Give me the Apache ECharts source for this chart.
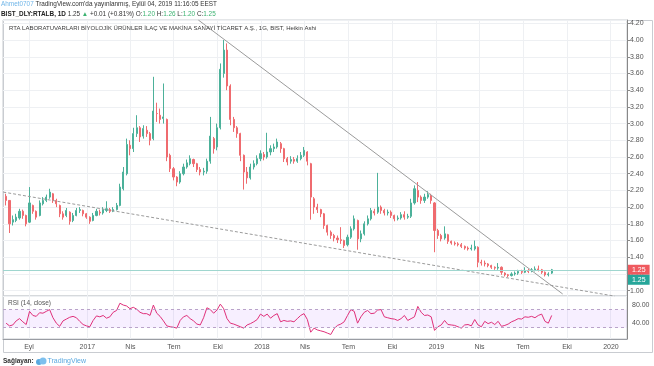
<!DOCTYPE html>
<html><head><meta charset="utf-8">
<script src="https://cdn.jsdelivr.net/npm/echarts@6/dist/echarts.min.js"></script>
<style>html,body{margin:0;padding:0;background:#fff}#c{width:654px;height:366px}</style>
</head><body><div id="c"></div>
<script>
// ---- data (weekly samples) ----
const axisStart = '2016-07-09';
const axisDays = 1305;
const firstWeek = '2016-07-15';
const opens = [2.13,2.08,1.82,1.84,1.87,1.95,1.90,1.82,2.02,1.95,
1.90,2.04,2.08,2.12,2.16,2.08,2.02,1.92,1.90,1.94,
1.84,1.90,1.96,1.96,1.92,1.88,1.84,1.90,1.94,1.93,
1.96,1.97,1.95,1.97,2.02,2.22,2.40,2.74,2.70,2.88,
2.95,2.85,2.92,2.88,2.82,3.12,3.10,3.06,3.05,2.62,
2.46,2.36,2.30,2.40,2.48,2.52,2.57,2.52,2.45,2.42,
2.43,2.55,2.82,2.72,2.95,3.60,3.88,3.45,3.05,2.95,
2.88,2.62,2.42,2.35,2.48,2.52,2.58,2.63,2.60,2.66,
2.70,2.72,2.76,2.70,2.58,2.55,2.57,2.55,2.58,2.62,
2.66,2.52,2.10,2.00,1.97,1.92,1.78,1.70,1.66,1.63,
1.61,1.60,1.55,1.64,1.74,1.84,1.62,1.68,1.80,1.86,
1.95,1.94,2.00,1.96,1.93,1.94,1.90,1.86,1.87,1.91,
1.88,1.89,2.05,2.20,2.12,2.08,2.12,2.14,2.05,1.72,
1.66,1.63,1.67,1.59,1.57,1.56,1.55,1.53,1.51,1.50,
1.50,1.52,1.34,1.33,1.32,1.30,1.28,1.27,1.28,1.21,
1.19,1.18,1.20,1.21,1.23,1.22,1.24,1.23,1.25,1.26,
1.25,1.22,1.19,1.21];
const closes = [2.08,1.80,1.85,1.88,1.95,1.90,1.80,2.05,1.95,1.88,
2.05,2.08,2.12,2.18,2.08,2.04,1.92,1.88,1.96,1.83,
1.90,1.96,1.97,1.92,1.88,1.83,1.90,1.95,1.93,1.97,
1.98,1.95,1.97,2.02,2.24,2.42,2.75,2.70,2.88,2.95,
2.84,2.94,2.88,2.80,3.15,3.12,3.05,3.08,2.60,2.46,
2.36,2.30,2.40,2.48,2.53,2.58,2.52,2.45,2.42,2.43,
2.55,2.85,2.70,2.95,3.65,3.88,3.45,3.05,2.95,2.88,
2.62,2.42,2.35,2.48,2.52,2.58,2.64,2.60,2.66,2.70,
2.72,2.78,2.70,2.58,2.54,2.57,2.55,2.58,2.62,2.68,
2.55,2.12,2.00,1.97,1.92,1.78,1.70,1.66,1.63,1.61,
1.60,1.54,1.64,1.74,1.86,1.62,1.68,1.80,1.86,1.96,
1.93,2.00,1.96,1.93,1.94,1.90,1.86,1.87,1.91,1.88,
1.89,2.05,2.22,2.12,2.08,2.12,2.15,2.08,1.72,1.66,
1.62,1.68,1.59,1.57,1.56,1.55,1.53,1.51,1.50,1.51,
1.53,1.34,1.33,1.32,1.30,1.28,1.27,1.28,1.22,1.19,
1.18,1.20,1.21,1.23,1.22,1.24,1.23,1.25,1.26,1.25,
1.22,1.19,1.20,1.25];
const lows = [2.02,1.69,1.78,1.82,1.85,1.86,1.77,1.81,1.92,1.85,
1.89,2.02,2.06,2.10,2.05,2.00,1.88,1.85,1.88,1.79,
1.82,1.89,1.93,1.89,1.86,1.80,1.83,1.89,1.90,1.91,
1.94,1.93,1.94,1.96,2.01,2.20,2.38,2.62,2.66,2.84,
2.78,2.82,2.84,2.74,2.80,3.02,3.00,3.00,2.55,2.42,
2.32,2.25,2.28,2.38,2.46,2.50,2.48,2.42,2.38,2.38,
2.40,2.52,2.64,2.68,2.93,3.55,3.40,2.98,2.90,2.83,
2.55,2.21,2.28,2.33,2.45,2.50,2.55,2.56,2.58,2.62,
2.66,2.70,2.65,2.54,2.50,2.52,2.52,2.53,2.56,2.60,
2.50,1.85,1.92,1.93,1.88,1.74,1.66,1.62,1.59,1.57,
1.56,1.51,1.53,1.62,1.72,1.49,1.58,1.66,1.78,1.84,
1.90,1.92,1.92,1.90,1.90,1.87,1.83,1.84,1.85,1.85,
1.86,1.87,2.03,2.06,2.04,2.05,2.10,2.04,1.46,1.62,
1.59,1.61,1.56,1.55,1.54,1.53,1.51,1.49,1.48,1.48,
1.48,1.28,1.30,1.29,1.28,1.26,1.25,1.25,1.19,1.17,
1.16,1.17,1.18,1.19,1.20,1.21,1.21,1.22,1.23,1.23,
1.20,1.17,1.17,1.20];
const highs = [2.16,2.08,1.90,1.92,1.98,1.97,1.91,2.24,2.03,1.96,
2.08,2.12,2.15,2.22,2.17,2.10,2.03,1.95,1.99,1.95,
1.93,1.99,2.00,1.97,1.93,1.89,1.93,1.98,1.97,2.00,
2.07,1.99,2.00,2.05,2.28,2.48,2.82,2.80,2.95,3.10,
2.97,2.98,2.97,2.90,3.56,3.25,3.18,3.48,3.06,2.64,
2.48,2.37,2.43,2.52,2.57,2.62,2.58,2.53,2.48,2.47,
2.58,3.08,2.84,3.00,3.72,4.00,3.96,3.47,3.08,2.97,
2.89,2.63,2.48,2.52,2.56,2.62,2.68,2.66,2.89,2.74,
2.76,2.82,2.78,2.71,2.60,2.61,2.60,2.62,2.66,2.72,
2.67,2.53,2.12,2.04,1.98,1.93,1.79,1.72,1.68,1.66,
1.76,1.61,1.67,1.77,1.90,1.85,1.72,1.83,1.90,1.99,
1.98,2.41,2.02,1.98,1.97,1.96,1.91,1.90,1.94,1.95,
1.92,2.10,2.26,2.30,2.14,2.16,2.19,2.16,2.06,1.74,
1.68,1.77,1.68,1.60,1.59,1.58,1.57,1.54,1.53,1.55,
1.60,1.53,1.37,1.36,1.33,1.31,1.29,1.33,1.29,1.22,
1.20,1.22,1.23,1.25,1.25,1.28,1.26,1.27,1.29,1.30,
1.26,1.23,1.22,1.26];
const rsi = [40,34,36,45,50,43,37,66,57,55,
63,62,66,70,52,40,33,45,49,53,
55,52,44,37,34,32,46,56,54,57,
51,54,64,68,84,80,78,72,75,71,
64,61,61,57,80,62,55,45,34,32,
31,29,46,54,57,50,45,38,36,52,
74,70,62,69,82,72,50,40,38,35,
32,29,36,39,43,48,60,55,60,51,
57,61,43,46,44,45,43,50,57,61,
48,20,29,25,23,21,18,15,28,35,
38,43,57,70,66,40,54,64,68,61,
62,69,70,54,52,50,49,46,50,57,
46,50,54,77,64,57,58,54,24,32,
36,46,37,36,35,32,29,36,37,34,
48,36,32,44,39,42,37,44,33,35,
38,43,46,50,49,54,53,55,52,57,
60,44,40,57];
const timeTickDates = ['2016-09-01','2017-01-01','2017-04-01','2017-07-01','2017-10-01','2018-01-01','2018-04-01','2018-07-01','2018-10-01','2019-01-01','2019-04-01','2019-07-01','2019-10-01','2020-01-01'];
const timeTickLabels = ['Eyl','2017','Nis','Tem','Eki','2018','Nis','Tem','Eki','2019','Nis','Tem','Eki','2020'];
const lastPrice = 1.25;
const upperTrend = [['2017-08-21', 4.24], ['2019-09-22', 0.96]];
const lowerTrend = [['2016-07-09', 2.18], ['2020-01-09', 0.934]];
const rsiBand = [30, 70];

// ---- helpers ----
function addDays(s, n) {
  const d = new Date(s + 'T00:00:00Z');
  d.setUTCDate(d.getUTCDate() + n);
  return d.toISOString().slice(0, 10);
}
const categories = Array.from({length: axisDays}, (_, k) => addDays(axisStart, k));
const tickMap = {};
timeTickDates.forEach((d, i) => { tickMap[d] = timeTickLabels[i]; });
const isTick = (idx, val) => tickMap[val] !== undefined;

const candleData = closes.map((c, i) => [addDays(firstWeek, 7 * i), opens[i], c, lows[i], highs[i]]);
const rsiData = rsi.map((v, i) => [addDays(firstWeek, 7 * i), v]);

const UP = '#4cb19a', DOWN = '#ef6b6f';
const FONT = 'Liberation Sans, Arial, sans-serif';
const gridColor = '#eef0f3';

const chart = echarts.init(document.getElementById('c'), null, {renderer: 'canvas'});
chart.setOption({
  animation: false,
  backgroundColor: '#ffffff',
  textStyle: {fontFamily: FONT},
  title: [
    {left: 1, top: 1, padding: 0, text: '{a|Ahmet0707} TradingView.com\'da yayınlanmış, Eylül 04, 2019 11:16:05 EEST',
      textStyle: {fontSize: 6.4, color: '#333', fontWeight: 'normal', fontFamily: FONT,
        rich: {a: {color: '#6fb5e8', fontSize: 6.4, fontFamily: FONT}}}},
    {left: 1, top: 11, padding: 0, text: '{b|BIST_DLY:RTALB, 1D} 1.25 {g|▲} +0.01 (+0.81%) O:{g|1.20} H:{g|1.26} L:{g|1.20} C:{g|1.25}',
      textStyle: {fontSize: 6.4, color: '#333', fontWeight: 'normal', fontFamily: FONT,
        rich: {b: {fontWeight: 'bold', color: '#222', fontSize: 6.4, fontFamily: FONT},
               g: {color: '#3cb371', fontSize: 6.4, fontFamily: FONT}}}},
    {left: 9, top: 25, padding: 0, text: 'RTA LABORATUVARLARI BİYOLOJİK ÜRÜNLER İLAÇ VE MAKİNA SANAYİ TİCARET A.Ş., 1G, BIST, Heikin Ashi',
      textStyle: {fontSize: 6, color: '#3a3a3a', fontWeight: 'normal', fontFamily: FONT}},
    {left: 8, top: 300, padding: 0, text: 'RSI (14, close)',
      textStyle: {fontSize: 6.5, color: '#555', fontWeight: 'normal', fontFamily: FONT}},
    {left: 3, top: 358, padding: 0, text: 'Sağlayan: {t|TradingView}',
      textStyle: {fontSize: 6.5, color: '#333', fontWeight: 'bold', fontFamily: FONT,
        rich: {t: {color: '#5aa9e0', fontWeight: 'normal', fontSize: 7, padding: [0, 0, 0, 12], fontFamily: FONT}}}}
  ],
  graphic: [
    {type: 'rect', shape: {x: 3.5, y: 20.5, width: 649, height: 332}, style: {fill: 'none', stroke: '#c9ccd1', lineWidth: 1}, z: -1},
    {type: 'circle', shape: {cx: 39, cy: 362, r: 3}, style: {fill: '#5aa9e0'}},
    {type: 'circle', shape: {cx: 43, cy: 361, r: 3.5}, style: {fill: '#7dc0ee'}}
  ],
  grid: [
    {left: 3, right: 27, top: 20, height: 276, show: true, borderColor: '#c9ccd1', borderWidth: 1},
    {left: 3, right: 27, top: 296, height: 43, show: true, borderColor: '#c9ccd1', borderWidth: 1}
  ],
  xAxis: [
    {type: 'category', gridIndex: 0, data: categories, boundaryGap: true,
      axisLine: {show: false}, axisTick: {show: false}, axisLabel: {show: false},
      splitLine: {show: true, interval: isTick, lineStyle: {color: gridColor, width: 1}}},
    {type: 'category', gridIndex: 1, data: categories, boundaryGap: true,
      axisLine: {show: true, lineStyle: {color: '#9a9da3'}}, axisTick: {show: false},
      axisLabel: {show: true, interval: isTick, formatter: v => tickMap[v] || '', fontSize: 7, color: '#555', margin: 5, fontFamily: FONT},
      splitLine: {show: true, interval: isTick, lineStyle: {color: gridColor, width: 1}}}
  ],
  yAxis: [
    {type: 'value', gridIndex: 0, position: 'right', min: 0.936, max: 4.24, splitNumber: 16, scale: true,
      axisLine: {show: true, lineStyle: {color: '#888'}},
      axisTick: {show: true, length: 3, lineStyle: {color: '#888'}},
      axisLabel: {fontSize: 7, color: '#555', margin: 3, showMinLabel: false, showMaxLabel: false, formatter: v => v.toFixed(2), fontFamily: FONT},
      splitLine: {show: true, lineStyle: {color: gridColor}}},
    {type: 'value', gridIndex: 1, position: 'right', min: 5, max: 100, interval: 5,
      axisLine: {show: true, lineStyle: {color: '#888'}},
      axisTick: {show: false},
      axisLabel: {fontSize: 7, color: '#555', margin: 5, formatter: v => (v === 40 || v === 80) ? v.toFixed(2) : '', fontFamily: FONT},
      splitLine: {show: false}}
  ],
  series: [
    {type: 'candlestick', xAxisIndex: 0, yAxisIndex: 0, data: candleData,
      encode: {x: 0, y: [1, 2, 3, 4]}, barWidth: 1.6,
      itemStyle: {color: UP, color0: DOWN, borderColor: UP, borderColor0: DOWN, borderWidth: 1},
      markLine: {silent: true, symbol: ['none', 'none'], animation: false,
        data: [
          {yAxis: lastPrice, lineStyle: {color: '#9fd6cf', type: 'solid', width: 1},
            label: {show: true, position: 'end', distance: 1, formatter: lastPrice.toFixed(2), color: '#fff', fontSize: 7,
              backgroundColor: '#ef5a5f', padding: [2, 4, 1, 4], fontFamily: FONT}},
          {yAxis: lastPrice, lineStyle: {color: 'rgba(0,0,0,0)', width: 0},
            label: {show: true, position: 'end', distance: 1, offset: [0, 10], formatter: lastPrice.toFixed(2), color: '#fff', fontSize: 7,
              backgroundColor: '#26a69a', padding: [2, 4, 1, 4], fontFamily: FONT}}
        ]}},
    {type: 'line', xAxisIndex: 0, yAxisIndex: 0, data: upperTrend, symbol: 'none', silent: true,
      lineStyle: {color: '#9b9b9b', width: 1}},
    {type: 'line', xAxisIndex: 0, yAxisIndex: 0, data: lowerTrend, symbol: 'none', silent: true,
      lineStyle: {color: '#9b9b9b', width: 1, type: [3, 2]}},
    {type: 'line', xAxisIndex: 1, yAxisIndex: 1, data: rsiData, symbol: 'none', silent: true,
      lineStyle: {color: '#e0307a', width: 1},
      markArea: {silent: true, itemStyle: {color: 'rgba(170,80,255,0.09)'}, data: [[{yAxis: rsiBand[0]}, {yAxis: rsiBand[1]}]]},
      markLine: {silent: true, symbol: ['none', 'none'], label: {show: false},
        lineStyle: {color: '#b9a3c9', type: [3, 3], width: 1},
        data: [{yAxis: rsiBand[0]}, {yAxis: rsiBand[1]}]}}
  ]
});
</script>
</body></html>
